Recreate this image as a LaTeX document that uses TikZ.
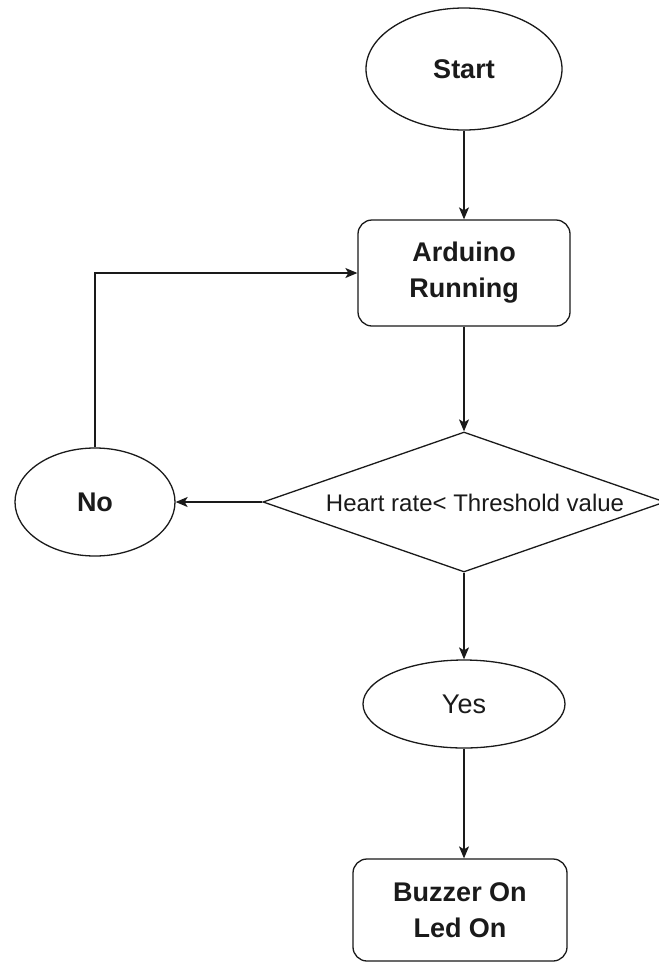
\documentclass[tikz,border=0pt]{standalone}
\usepackage{fontspec}
\setmainfont{Liberation Sans}
\usetikzlibrary{shapes.geometric,arrows.meta}
\definecolor{ink}{HTML}{1A1A1A}
\begin{document}
\begin{tikzpicture}[x=1pt,y=-1pt,
  line width=1.3pt, draw=ink,
  bigb/.style={font=\fontsize{27}{36}\selectfont\bfseries, text=ink},
  bigr/.style={font=\fontsize{27}{36}\selectfont, text=ink},
  oval/.style={draw=ink, ellipse, inner sep=0pt},
  rbox/.style={draw=ink, rounded corners=14pt, inner sep=0pt, align=center},
  arr/.style={draw=ink, -{Stealth[length=12pt,width=10pt,inset=3pt]}}
]
\useasboundingbox (0,0) rectangle (659,962);
\fill[white] (0,0) rectangle (659,962);

\node[oval, bigb, minimum width=196pt, minimum height=122pt] (start) at (464,69) {Start};
\node[rbox, bigb, minimum width=212pt, minimum height=106pt] (ard) at (464,273) {Arduino\\Running};
\node[draw=ink, diamond, inner sep=0pt, minimum width=402pt, minimum height=140pt] (dia) at (464,502) {};
\node[font=\fontsize{24}{28}\selectfont, text=ink, inner sep=0pt] (dtext) at (475,503) {Heart rate< Threshold value};
\node[oval, bigb, minimum width=160pt, minimum height=108pt] (no) at (95,502) {No};
\node[oval, bigr, minimum width=202pt, minimum height=88pt] (yes) at (464,704) {Yes};
\node[rbox, bigb, minimum width=214pt, minimum height=102pt] (buz) at (460,910) {Buzzer On\\Led On};

\draw[arr] (start) -- (ard);
\draw[arr] (ard) -- (dia);
\draw[arr] (dia.west) -- (no.east);
\draw[arr] (no.north) |- (ard.west);
\draw[arr] (dia.south) -- (yes);
\draw[arr] (yes.south) -- (yes.south |- buz.north);
\end{tikzpicture}
\end{document}
